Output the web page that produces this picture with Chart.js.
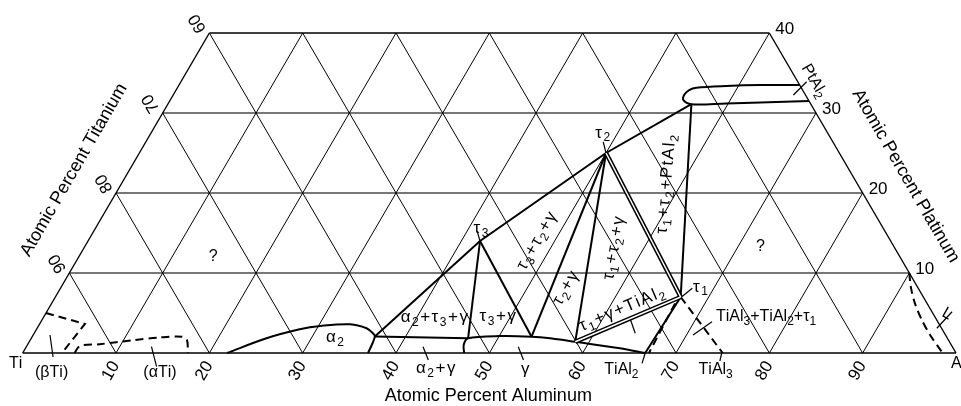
<!DOCTYPE html>
<html>
<head>
<meta charset="utf-8">
<script src="https://cdn.jsdelivr.net/npm/chart.js@4.4.0/dist/chart.umd.min.js"></script>
<style>
  html, body { margin: 0; padding: 0; background: #fff; }
  canvas { display: block; }
</style>
</head>
<body>
<canvas id="chart" width="961" height="406"></canvas>
<script>
// Ti-Al-Pt partial isothermal section, compositions given as [at.% Al, at.% Pt]

const alTicks = [10, 20, 30, 40, 50, 60, 70, 80, 90];
const ptTicks = [10, 20, 30, 40];
const tiTicks = [60, 70, 80, 90];

// invariant / corner points
const tau1 = [67, 7];
const tau2 = [50, 25];
const tau3 = [42, 14];
const ptAl2Corner = [56.1, 31.1];
const alpha2Corner = [36.7, 2.06];
const gammaLeft = [46.8, 1.84];
const gammaA = [53.5, 2.04];
const gammaB = [58.5, 1.4];
const tiAl2 = [66.7, 0];
const tiAl3 = [75, 0];

// phase boundaries
const alpha2Boundary = [[21.9, 0], [25.2, 1.84], [28.2, 2.96], [30.2, 3.38], [33.3, 3.59], [35.3, 3.09], [36.3, 2.46], [36.7, 2.06], [36.9, 1.0], [37.0, 0]];
const gammaBoundary = [[47.3, 0], [46.75, 1.0], [46.8, 1.84], [50.1, 2.12], [53.5, 2.04], [55.6, 1.84], [58.5, 1.4], [63.7, 0.6], [66.7, 0]];
const ptAl2Boundary = [[66.5, 33.5], [62.25, 33.5], [58.7, 33.38], [55.6, 33.16], [55.0, 32.9], [54.75, 32.3], [55.0, 31.6], [56.1, 31.1], [59.8, 31.2], [63.4, 31.3], [68.5, 31.5]];
const betaTiBoundary = [[0, 5], [4.85, 3.63], [4.2, 0]];
const alphaTiBoundary = [[5.55, 0], [5.7, 0.88], [7.7, 1.1], [11.0, 1.6], [13.7, 1.94], [16.0, 2.04], [16.8, 1.6], [17.7, 0]];
const liquidBoundary = [[90, 10], [91, 8.3], [92.5, 6.2], [94.3, 4.1], [96.1, 2.25], [98.4, 0.15]];

// tie lines
const tieLines = [
  [alpha2Corner, tau3, tau2],
  [tau2, ptAl2Corner],
  [ptAl2Corner, tau1],
  [alpha2Corner, gammaLeft],
  [tau3, gammaLeft],
  [tau3, gammaA],
  [tau2, gammaA],
  [tau2, gammaB],
  [tau1, tiAl2],
];
const doubleLines = [[tau2, tau1], [tau1, gammaB]];
const dashedLines = [[[66.8, 6.2], [67.1, 0]], [tau1, tiAl3]];

const leaderLines = [
  [[42.5, 0.79], [43.9, -0.88]],
  [[52.7, 0.79], [54.1, -0.88]],
  [[62.9, 4.34], [64.4, 2.46]],
  [[66.7, 0], [67.0, -1.29]],
  [[74.9, 0], [75.2, -1.0]],
  [[70.7, 2.25], [71.9, 3.91]],
  [[67.1, 7.04], [67.7, 8.09]],
  [[49.0, 26.4], [50, 25]],
  [[41.1, 15.2], [42, 14]],
  [[1.8, 2.25], [3.5, -0.5]],
  [[13.4, 0.79], [15.2, -1.71]],
  [[66.45, 32.25], [67.05, 33.9]],
  [[96.4, 3.09], [97.0, 5.16]],
];

const phaseLabels = [
  { text: 'α_2', at: [32.5, 1.9], rot: 0 },
  { text: 'α_2+τ_3+γ', at: [41.9, 4.4], rot: 0 },
  { text: 'τ_3+γ', at: [48.6, 4.6], rot: 0 },
  { text: 'τ_3+τ_2+γ', at: [48.1, 14], rot: -60 },
  { text: 'τ_2+γ', at: [54.15, 8.1], rot: -60 },
  { text: 'τ_1+τ_2+γ', at: [56.8, 13.1], rot: -80 },
  { text: 'τ_1+τ_2+PtAl_2', at: [58.4, 21.1], rot: -85 },
  { text: 'τ_1+γ+TiAl_2', at: [61.45, 5.5], rot: -23 },
  { text: 'TiAl_3+TiAl_2+τ_1', at: [77.4, 4.5], rot: 0, gap: 0, size: 16 },
  { text: 'PtAl_2', at: [67.8, 34], rot: 60, gap: 0, size: 16 },
  { text: 'τ_1', at: [68.5, 8.25], rot: 0 },
  { text: 'τ_2', at: [48.4, 27.5], rot: 0 },
  { text: 'τ_3', at: [41.3, 15.6], rot: 0 },
  { text: 'α_2+γ', at: [45.2, -1.9], rot: 0 },
  { text: 'γ', at: [54.9, -2.1], rot: 0 },
  { text: 'TiAl_2', at: [65.2, -2.1], rot: 0, gap: 0, size: 16 },
  { text: 'TiAl_3', at: [75.3, -2.1], rot: 0, gap: 0, size: 16 },
  { text: '(βTi)', at: [4.35, -2.5], rot: 0, gap: 0, size: 16 },
  { text: '(αTi)', at: [15.96, -2.5], rot: 0, gap: 0, size: 16 },
  { text: '?', at: [14.4, 12], rot: 0, gap: 0, size: 16 },
  { text: '?', at: [72.4, 13.3], rot: 0, gap: 0, size: 16 },
  { text: 'L', at: [96.6, 4.9], rot: 30, gap: 0, size: 16 },
];

const FONT = '"Liberation Sans", Arial, sans-serif';

// ternary -> cartesian: x = Al + Pt/2, y = Pt
function toXY(p) {
  return { x: p[0] + p[1] / 2, y: p[1] };
}

function lineSet(points, opts) {
  return Object.assign({
    data: points.map(toXY),
    showLine: true,
    pointRadius: 0,
    borderColor: '#000',
    borderWidth: 2,
    tension: 0,
    fill: false,
    clip: false,
    order: 5,
  }, opts);
}

const datasets = [];

// grid
alTicks.forEach((v) => {
  datasets.push(lineSet([[v, 0], [v, Math.min(40, 100 - v)]], { borderWidth: 1, order: 20 }));
  const top = Math.min(40, v);
  datasets.push(lineSet([[v, 0], [v - top, top]], { borderWidth: 1, order: 20 }));
});
ptTicks.filter((p) => p < 40).forEach((p) => {
  datasets.push(lineSet([[0, p], [100 - p, p]], { borderWidth: 1.4, borderColor: '#4a4a4a', order: 20 }));
});
// frame
[[[0, 0], [100, 0]], [[0, 0], [0, 40]], [[100, 0], [60, 40]], [[0, 40], [60, 40]]].forEach((seg) => {
  datasets.push(lineSet(seg, { borderWidth: 1.4, order: 19 }));
});

// phase boundaries
datasets.push(lineSet(alpha2Boundary, { tension: 0.35 }));
datasets.push(lineSet(gammaBoundary, { tension: 0.3 }));
datasets.push(lineSet(ptAl2Boundary, { tension: 0.35 }));
datasets.push(lineSet(betaTiBoundary, { borderDash: [8, 5] }));
datasets.push(lineSet(alphaTiBoundary, { borderDash: [8, 5], tension: 0.3 }));
datasets.push(lineSet(liquidBoundary, { borderDash: [8, 5], tension: 0.3 }));

tieLines.forEach((l) => datasets.push(lineSet(l, {})));
doubleLines.forEach((l) => {
  datasets.push(lineSet(l, { borderWidth: 4.6, order: 4 }));
  datasets.push(lineSet(l, { borderWidth: 1.5, borderColor: '#fff', order: 3 }));
});
dashedLines.forEach((l) => datasets.push(lineSet(l, { borderDash: [8, 5] })));
leaderLines.forEach((l) => datasets.push(lineSet(l, { borderWidth: 1.2 })));

function drawRich(ctx, text, px, py, size, angle, align, gap) {
  const parts = [];
  for (let i = 0; i < text.length; i++) {
    if (text[i] === '_') { parts.push({ t: text[i + 1], sub: true }); i++; }
    else parts.push({ t: text[i], sub: false });
  }
  const subSize = Math.round(size * 0.72);
  let w = 0;
  parts.forEach((p) => {
    ctx.font = `${p.sub ? subSize : size}px ${FONT}`;
    p.w = ctx.measureText(p.t).width + gap;
    w += p.w;
  });
  w -= gap;
  ctx.save();
  ctx.translate(px, py);
  ctx.rotate(angle * Math.PI / 180);
  ctx.textAlign = 'left';
  ctx.textBaseline = 'middle';
  ctx.fillStyle = '#000';
  let x = align === 'left' ? 0 : -w / 2;
  parts.forEach((p) => {
    ctx.font = `${p.sub ? subSize : size}px ${FONT}`;
    ctx.fillText(p.t, x, p.sub ? size * 0.3 : 0);
    x += p.w;
  });
  ctx.restore();
}

const labelsPlugin = {
  id: 'ternaryLabels',
  afterDatasetsDraw(chart) {
    const { ctx } = chart;
    const sx = chart.scales.x;
    const sy = chart.scales.y;
    const pix = (p) => {
      const q = toXY(p);
      return [sx.getPixelForValue(q.x), sy.getPixelForValue(q.y)];
    };

    // bottom axis: Al
    alTicks.forEach((v) => {
      const [x, y] = pix([v, 0]);
      drawRich(ctx, String(v), x - 5, y + 18, 17, -60, 'center', 0);
    });
    // left axis: Ti
    tiTicks.forEach((t) => {
      const [x, y] = pix([0, 100 - t]);
      drawRich(ctx, String(t), x - 11.7, y - 9.5, 17, -120, 'center', 0);
    });
    // right axis: Pt
    ptTicks.forEach((p) => {
      const [x, y] = pix([100 - p, p]);
      drawRich(ctx, String(p), x + 6, y - 4, 17, 0, 'left', 0);
    });

    const [x0, y0] = pix([0, 0]);
    const [x1] = pix([100, 0]);
    drawRich(ctx, 'Ti', x0 - 7, y0 + 11, 16, 0, 'center', 0);
    drawRich(ctx, 'Al', x1 - 5, y0 + 11, 16, 0, 'left', 0);

    drawRich(ctx, 'Atomic Percent Aluminum', (x0 + x1) / 2 - 1, y0 + 43, 18, 0, 'center', 0);
    const [lx, ly] = pix([0, 20]);
    drawRich(ctx, 'Atomic Percent Titanium', lx - 42, ly - 23, 18, -60, 'center', 0);
    const [rx, ry] = pix([80, 20]);
    drawRich(ctx, 'Atomic Percent Platinum', rx + 43, ry - 17, 18, 60, 'center', 0);

    phaseLabels.forEach((l) => {
      const [x, y] = pix(l.at);
      drawRich(ctx, l.text, x, y, l.size || 17, l.rot, 'center', l.gap === undefined ? 1.5 : l.gap);
    });
  },
};

new Chart(document.getElementById('chart'), {
  type: 'scatter',
  data: { datasets },
  options: {
    responsive: false,
    animation: false,
    devicePixelRatio: 1,
    layout: { padding: { left: 22.7, right: 5, top: 33, bottom: 53 } },
    scales: {
      x: { type: 'linear', min: 0, max: 100, display: false },
      y: { type: 'linear', min: 0, max: 40, display: false },
    },
    plugins: {
      legend: { display: false },
      tooltip: { enabled: false },
    },
  },
  plugins: [labelsPlugin],
});
</script>
</body>
</html>
